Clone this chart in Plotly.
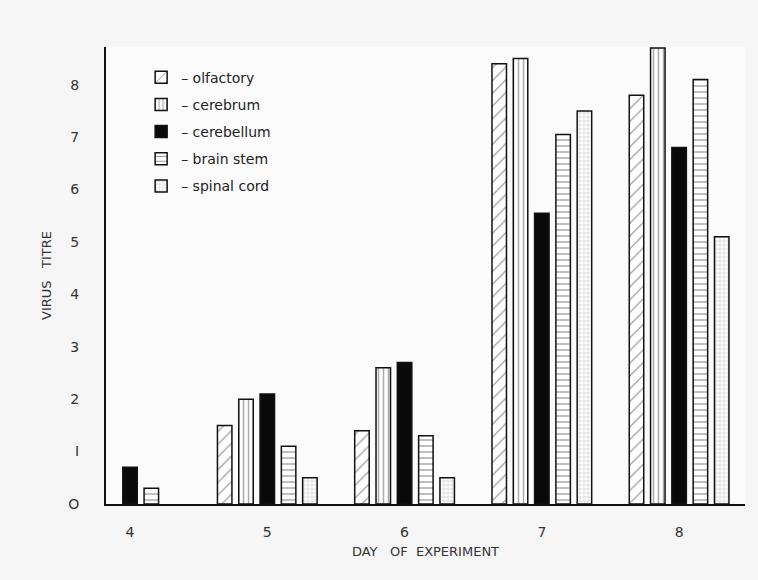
import plotly.graph_objects as go

days = ["4", "5", "6", "7", "8"]
olfactory = [None, 1.5, 1.4, 8.4, 7.8]
cerebrum = [None, 2.0, 2.6, 8.5, 8.7]
cerebellum = [0.7, 2.1, 2.7, 5.55, 6.8]
brain_stem = [0.3, 1.1, 1.3, 7.05, 8.1]
spinal_cord = [None, 0.5, 0.5, 7.5, 5.1]
y_ticks = [0, 1, 2, 3, 4, 5, 6, 7, 8]
y_tick_text = ["O", "I", "2", "3", "4", "5", "6", "7", "8"]

series = [
    ("olfactory", olfactory, dict(shape="/", fgcolor="#111", bgcolor="white", size=9, solidity=0.12)),
    ("cerebrum", cerebrum, dict(shape="|", fgcolor="#555", bgcolor="white", size=5, solidity=0.3)),
    ("cerebellum", cerebellum, None),
    ("brain stem", brain_stem, dict(shape="-", fgcolor="#111", bgcolor="white", size=6, solidity=0.18)),
    ("spinal cord", spinal_cord, dict(shape="+", fgcolor="#888", bgcolor="white", size=4, solidity=0.25)),
]

FONT = "DejaVu Sans"
fig = go.Figure()
for i, (name, vals, pat) in enumerate(series):
    marker = dict(line=dict(color="#111", width=1.5))
    if pat is None:
        marker["color"] = "#0a0a0a"
    else:
        marker["color"] = "white"
        marker["pattern"] = pat
    fig.add_trace(go.Bar(
        x=days, y=vals, name="\u2013 " + name, marker=marker,
        legendgroup=f"g{i}",
    ))

fig.update_layout(
    width=758, height=580,
    margin=dict(l=106, r=13, t=47, b=76),
    paper_bgcolor="#f6f6f6",
    plot_bgcolor="#fbfbfb",
    barmode="group",
    bargap=0.224,
    bargroupgap=0.32,
    font=dict(family=FONT, size=13, color="#222"),
    legend=dict(
        x=0.055, y=0.968, xanchor="left", yanchor="top",
        bgcolor="rgba(0,0,0,0)", tracegroupgap=6,
        font=dict(family=FONT, size=14, color="#222"),
        itemwidth=30,
    ),
    xaxis=dict(
        type="category",
        range=[-0.175, 4.48],
        showline=True, linecolor="#111", linewidth=2,
        ticks="outside", ticklen=14, tickcolor="rgba(0,0,0,0)",
        showgrid=False, zeroline=False,
        tickfont=dict(size=14, color="#333"),
        title=dict(text="DAY   OF  EXPERIMENT", font=dict(size=13, color="#333"), standoff=8),
    ),
    yaxis=dict(
        range=[0, 8.72],
        tickvals=y_ticks, ticktext=y_tick_text,
        showline=True, linecolor="#111", linewidth=2,
        ticks="outside", ticklen=22, tickcolor="rgba(0,0,0,0)",
        showgrid=False, zeroline=False,
        tickfont=dict(size=14, color="#333"),
        title=dict(text="VIRUS   TITRE", font=dict(size=13, color="#333"), standoff=14),
    ),
)

fig.write_html("out.html")
